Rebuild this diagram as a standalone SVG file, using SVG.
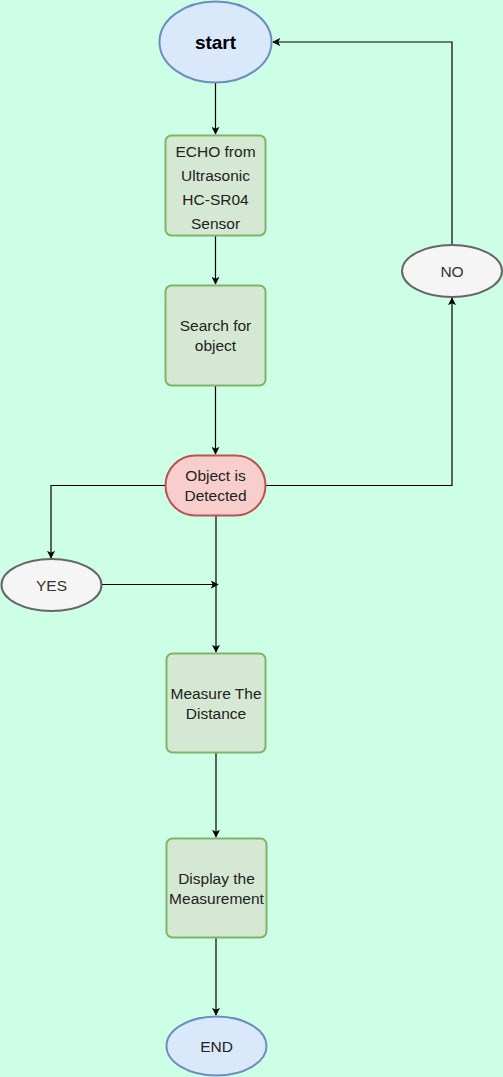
<svg xmlns="http://www.w3.org/2000/svg" width="503" height="1077" viewBox="0 0 503 1077">
<defs>
<marker id="arr" viewBox="0 0 10 10" refX="9" refY="5" markerWidth="8" markerHeight="8" markerUnits="userSpaceOnUse" orient="auto">
<path d="M0,0 L10,5 L0,10 L2.5,5 Z" fill="#000"/>
</marker>
<style>
.t{font-family:"Liberation Sans",Arial,sans-serif;font-size:15.5px;fill:#222;text-anchor:middle}
.g{fill:#333}
.blue{fill:#dae8fc;stroke:#6c8ebf;stroke-width:2}
.green{fill:#d5e8d4;stroke:#82b366;stroke-width:2}
.red{fill:#f8cecc;stroke:#b85450;stroke-width:2}
.grey{fill:#f5f5f5;stroke:#666;stroke-width:2}
.c{fill:none;stroke:#000;stroke-width:1.2;marker-end:url(#arr)}
</style>
</defs>
<rect width="503" height="1077" fill="#ccffe6"/>
<g id="connectors">
<path class="c" d="M215.5,83 V134"/>
<path class="c" d="M215.5,236 V284"/>
<path class="c" d="M215.5,385 V454"/>
<path class="c" d="M266,485.5 H452 V298"/>
<path class="c" d="M452,245 V42 H273"/>
<path class="c" d="M165,485.5 H51 V558"/>
<path class="c" d="M102,584.5 H218"/>
<path class="c" d="M216,516 V652"/>
<path class="c" d="M216,753 V837"/>
<path class="c" d="M216,938 V1015"/>
</g>
<g id="start">
<ellipse class="blue" cx="215.5" cy="42" rx="56" ry="40.5"/>
<text class="t" x="215.5" y="49" style="font-weight:bold;font-size:19px;fill:#000">start</text>
</g>
<g id="echo">
<rect class="green" x="165.5" y="135.5" width="100" height="100" rx="6"/>
<text class="t" x="215.5" y="157">ECHO from</text>
<text class="t" x="215.5" y="181">Ultrasonic</text>
<text class="t" x="215.5" y="205">HC-SR04</text>
<text class="t" x="215.5" y="229">Sensor</text>
</g>
<g id="search">
<rect class="green" x="165.5" y="285.5" width="100" height="100" rx="6"/>
<text class="t" x="215.5" y="331">Search for</text>
<text class="t" x="215.5" y="351">object</text>
</g>
<g id="detected">
<rect class="red" x="165.5" y="455.5" width="100" height="60" rx="30"/>
<text class="t" x="215.5" y="481">Object is</text>
<text class="t" x="215.5" y="501">Detected</text>
</g>
<g id="no">
<ellipse class="grey" cx="452" cy="271" rx="50" ry="26"/>
<text class="t g" x="452" y="277">NO</text>
</g>
<g id="yes">
<ellipse class="grey" cx="51.5" cy="585" rx="50" ry="26"/>
<text class="t g" x="51.5" y="591">YES</text>
</g>
<g id="measure">
<rect class="green" x="166.5" y="653.5" width="99" height="99" rx="6"/>
<text class="t" x="216" y="699">Measure The</text>
<text class="t" x="216" y="719">Distance</text>
</g>
<g id="display">
<rect class="green" x="166.5" y="838.5" width="100" height="99" rx="6"/>
<text class="t" x="216.5" y="884">Display the</text>
<text class="t" x="216.5" y="904">Measurement</text>
</g>
<g id="end">
<ellipse class="blue" cx="216.5" cy="1046" rx="50" ry="29.5"/>
<text class="t" x="216.5" y="1052">END</text>
</g>
</svg>
